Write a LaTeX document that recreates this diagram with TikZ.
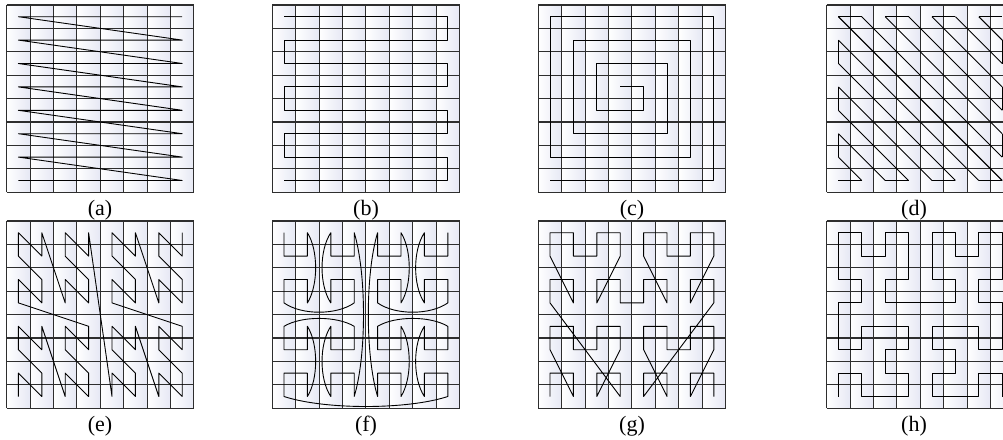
\documentclass[tikz,border=0pt]{standalone}
\usepackage{fontspec}
\setmainfont{Liberation Serif}
\definecolor{cellR}{RGB}{230,232,244}
\tikzset{
 cellfill/.style={left color=white,right color=cellR},
 gridln/.style={line width=1.05pt,draw=black!82},
 curve/.style={line width=0.9pt,black,line join=round},
 lbl/.style={font=\fontsize{22}{26}\selectfont,inner sep=0pt},
 panel/.style={x=23.4pt,y=-23.4pt},
}
\newcommand\mygridpanel{%
 \foreach \i in {0,...,7}{\foreach \j in {0,...,7}{\shade[cellfill] (\i,\j) rectangle ++(1,1);}}%
 \foreach \k in {0,...,8}{\draw[gridln] (\k,0) -- (\k,8); \draw[gridln] (0,\k) -- (8,\k);}%
}
\begin{document}
\begin{tikzpicture}[x=1pt,y=-1pt]
\useasboundingbox (0,0) rectangle (1003,439);
\clip (0,0) rectangle (1003,439);
\fill[white] (0,0) rectangle (1003,439);

% (a) row scan
\begin{scope}[shift={(6.7,5)},panel]
 \mygridpanel
 \begin{scope}[shift={(0.5,0.5)}]
  \draw[curve] (7,0) \foreach \r in {0,...,6}{ -- (0,\r) -- (7,\r+1)} -- (0,7);
 \end{scope}
\end{scope}
\node[lbl] (la) at (100,210) {(a)};

% (b) snake
\begin{scope}[shift={(272.3,5)},panel]
 \mygridpanel
 \begin{scope}[shift={(0.5,0.5)}]
  \draw[curve] (0,0) \foreach \r in {0,2,4,6}{ -- (0,\r) -- (7,\r) -- (7,\r+1) -- (0,\r+1)};
 \end{scope}
\end{scope}
\node[lbl] (lb) at (366,210) {(b)};

% (c) spiral
\begin{scope}[shift={(538.3,5)},panel]
 \mygridpanel
 \begin{scope}[shift={(0.5,0.5)}]
  \draw[curve] (0,7)--(7,7)--(7,0)--(0,0)--(0,6)--(6,6)--(6,1)--(1,1)--(1,5)--(5,5)--(5,2)--(2,2)--(2,4)--(4,4)--(4,3)--(3,3);
 \end{scope}
\end{scope}
\node[lbl] (lc) at (632,210) {(c)};

% (d) diagonal zigzag
\begin{scope}[shift={(826.7,5)},panel]
 \mygridpanel
 \begin{scope}[shift={(0.5,0.5)}]
  \foreach \e in {0,...,6}{\draw[curve] (0,\e) -- (7-\e,7); \draw[curve] (\e,0) -- (7,7-\e);}
  \foreach \c in {0,2,4,6}{\draw[curve] (\c,0) -- (\c+1,0); \draw[curve] (\c,7) -- (\c+1,7);}
  \foreach \r in {1,3,5}{\draw[curve] (0,\r) -- (0,\r+1); \draw[curve] (7,\r) -- (7,\r+1);}
 \end{scope}
\end{scope}
\node[lbl] (ld) at (914,210) {(d)};

% (e) N-order
\gdef\ptsE{}
\foreach \k in {0,...,63}{%
 \pgfmathtruncatemacro\cx{4*mod(floor(\k/32),2)+2*mod(floor(\k/8),2)+mod(floor(\k/2),2)}%
 \pgfmathtruncatemacro\cy{7-(4*mod(floor(\k/16),2)+2*mod(floor(\k/4),2)+mod(\k,2))}%
 \xdef\ptsE{\ptsE (\cx,\cy)}%
}
\begin{scope}[shift={(6.7,221)},panel]
 \mygridpanel
 \begin{scope}[shift={(0.5,0.5)}]
  \edef\myEdraw{\noexpand\draw[curve] plot coordinates {\ptsE};}\myEdraw
 \end{scope}
\end{scope}
\node[lbl] (le) at (100,426) {(e)};

% (f) U-type curve with arcs
\begin{scope}[shift={(272.3,221)},panel]
 \mygridpanel
 \begin{scope}[shift={(0.5,0.5)}]
  \draw[curve] (0,0) -- (0,1) -- (1,1) -- (1,0) .. controls (1.47,0.75) and (1.47,2.25) .. (1,3) -- (1,2) -- (0,2) -- (0,3)
   .. controls (0.75,3.53) and (2.25,3.53) .. (3,3) -- (3,2) -- (2,2) -- (2,3)
   .. controls (1.5,2.25) and (1.5,0.75) .. (2,0) -- (2,1) -- (3,1) -- (3,0)
   .. controls (3.53,1.75) and (3.53,5.25) .. (3,7) -- (3,6) -- (2,6) -- (2,7)
   .. controls (1.5,6.25) and (1.5,4.75) .. (2,4) -- (2,5) -- (3,5) -- (3,4)
   .. controls (2.25,3.55) and (0.75,3.55) .. (0,4) -- (0,5) -- (1,5) -- (1,4)
   .. controls (1.47,4.75) and (1.47,6.25) .. (1,7) -- (1,6) -- (0,6) -- (0,7)
   .. controls (1.75,7.57) and (5.25,7.57) .. (7,7) -- (7,6) -- (6,6) -- (6,7)
   .. controls (5.5,6.25) and (5.5,4.75) .. (6,4) -- (6,5) -- (7,5) -- (7,4)
   .. controls (6.25,3.55) and (4.75,3.55) .. (4,4) -- (4,5) -- (5,5) -- (5,4)
   .. controls (5.47,4.75) and (5.47,6.25) .. (5,7) -- (5,6) -- (4,6) -- (4,7)
   .. controls (3.47,5.25) and (3.47,1.75) .. (4,0) -- (4,1) -- (5,1) -- (5,0)
   .. controls (5.47,0.75) and (5.47,2.25) .. (5,3) -- (5,2) -- (4,2) -- (4,3)
   .. controls (4.75,3.53) and (6.25,3.53) .. (7,3) -- (7,2) -- (6,2) -- (6,3)
   .. controls (5.5,2.25) and (5.5,0.75) .. (6,0) -- (6,1) -- (7,1) -- (7,0);
 \end{scope}
\end{scope}
\node[lbl] (lf) at (366,426) {(f)};

% (g)
\begin{scope}[shift={(538.3,221)},panel]
 \mygridpanel
 \begin{scope}[shift={(0.5,0.5)}]
  \draw[curve] (0,7)--(0,6)--(1,6)--(1,7)--(0,5)--(0,4)--(1,4)--(1,5)--(2,5)--(2,4)--(3,4)--(3,5)--(2,7)--(2,6)--(3,6)--(3,7)--(0,3)--(0,2)--(1,2)--(1,3)--(0,1)--(0,0)--(1,0)--(1,1)--(2,1)--(2,0)--(3,0)--(3,1)--(2,3)--(2,2)--(3,2)--(3,3)--(4,3)--(4,2)--(5,2)--(5,3)--(4,1)--(4,0)--(5,0)--(5,1)--(6,1)--(6,0)--(7,0)--(7,1)--(6,3)--(6,2)--(7,2)--(7,3)--(4,7)--(4,6)--(5,6)--(5,7)--(4,5)--(4,4)--(5,4)--(5,5)--(6,5)--(6,4)--(7,4)--(7,5)--(6,7)--(6,6)--(7,6)--(7,7);
 \end{scope}
\end{scope}
\node[lbl] (lg) at (632,426) {(g)};

% (h) Hilbert
\begin{scope}[shift={(826.7,221)},panel]
 \mygridpanel
 \begin{scope}[shift={(0.5,0.5)}]
  \draw[curve] (0,7)--(0,6)--(1,6)--(1,7)--(2,7)--(3,7)--(3,6)--(2,6)--(2,5)--(3,5)--(3,4)--(2,4)--(1,4)--(1,5)--(0,5)--(0,4)--(0,3)--(1,3)--(1,2)--(0,2)--(0,1)--(0,0)--(1,0)--(1,1)--(2,1)--(2,0)--(3,0)--(3,1)--(3,2)--(2,2)--(2,3)--(3,3)--(4,3)--(5,3)--(5,2)--(4,2)--(4,1)--(4,0)--(5,0)--(5,1)--(6,1)--(6,0)--(7,0)--(7,1)--(7,2)--(6,2)--(6,3)--(7,3)--(7,4)--(7,5)--(6,5)--(6,4)--(5,4)--(4,4)--(4,5)--(5,5)--(5,6)--(4,6)--(4,7)--(5,7)--(6,7)--(6,6)--(7,6)--(7,7);
 \end{scope}
\end{scope}
\node[lbl] (lh) at (914,426) {(h)};
\end{tikzpicture}
\end{document}
